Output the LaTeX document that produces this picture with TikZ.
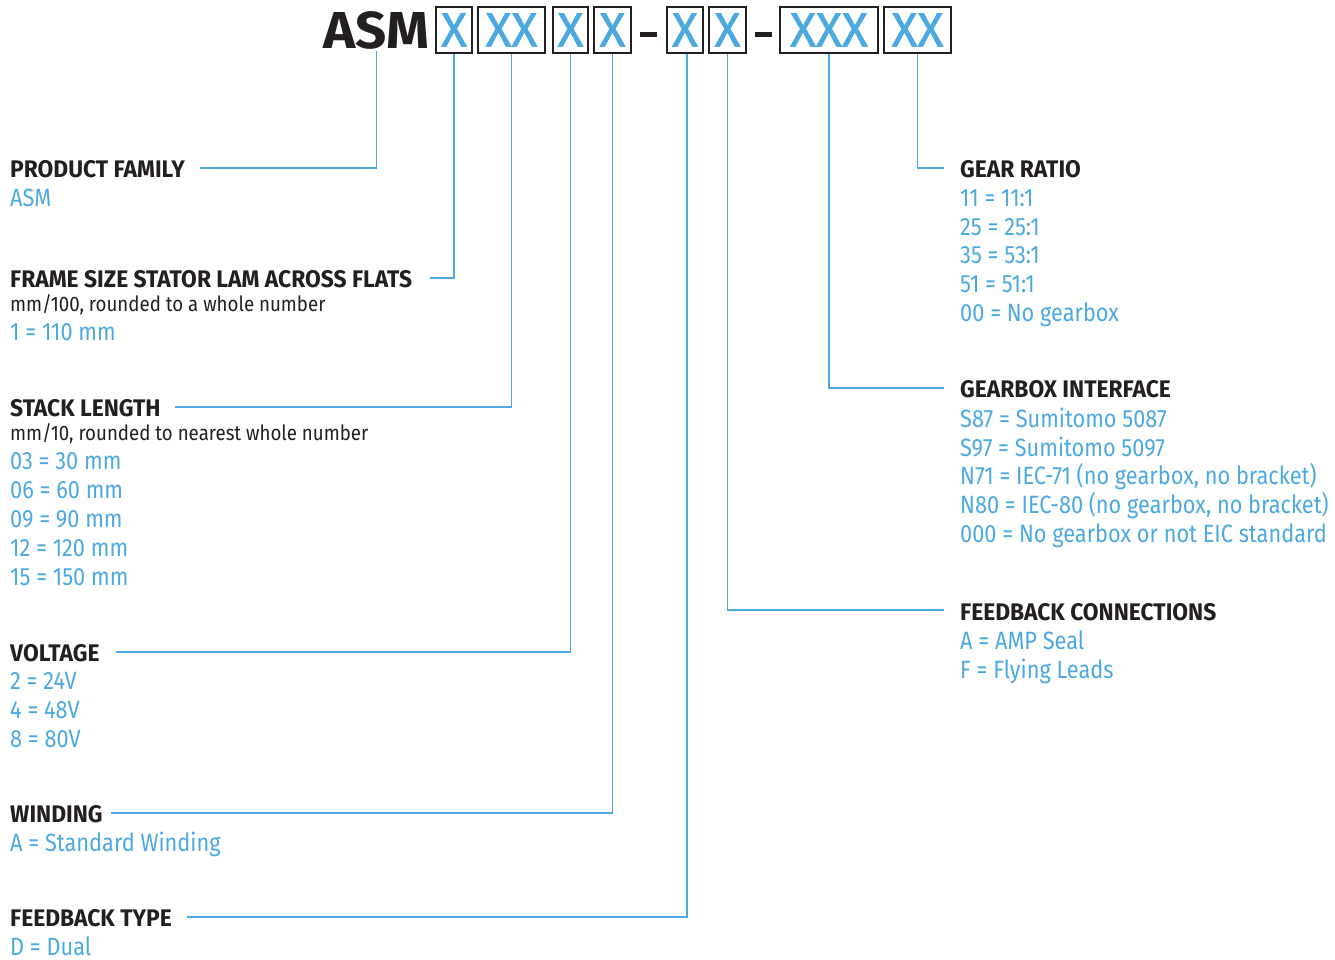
\documentclass[tikz,border=0pt]{standalone}
\usepackage{fontspec}
\setmainfont{Fira Sans}[FakeStretch=0.87]
\newfontfamily\hdfont{Fira Sans}[FakeStretch=0.95]
\newfontfamily\dsfont{Fira Sans}[FakeStretch=0.89]
\newfontfamily\ttlfont{Fira Sans}[FakeStretch=1.05]
\newfontfamily\xfont{Fira Sans}[FakeStretch=1.0,FakeBold=1.2]
\definecolor{cblue}{HTML}{4BA9E0}
\definecolor{cblack}{HTML}{231F20}
\begin{document}
\begin{tikzpicture}[x=1pt,y=-1pt,
  hd/.style={anchor=base west,inner sep=0pt,text=cblack,font=\hdfont\fontsize{24}{29}\selectfont\bfseries},
  bl/.style={anchor=base west,inner sep=0pt,text=cblue,font=\fontsize{25}{29}\selectfont},
  ds/.style={anchor=base west,inner sep=0pt,text=cblack,font=\dsfont\fontsize{21}{24}\selectfont},
  xbox/.style={draw=cblack,line width=2pt,inner sep=0pt,minimum height=46pt,text=cblue,font=\xfont\fontsize{48}{48}\selectfont},
  hyph/.style={fill=cblack,inner sep=0pt,minimum width=17pt,minimum height=5pt},
  lead/.style={draw=cblue,line width=1.6pt}]
\useasboundingbox (0,0) rectangle (1335,959);
% title
\node[anchor=base,inner sep=0pt,text=cblack,font=\ttlfont\fontsize{52}{52}\selectfont\bfseries] (asm) at (376.5,48) {ASM};
\node[xbox,minimum width=36pt] (b1) at (454,30) {X};
\node[xbox,minimum width=67pt] (b2) at (511.5,30) {XX};
\node[xbox,minimum width=35pt] (b3) at (570.5,30) {X};
\node[xbox,minimum width=37pt] (b4) at (612.5,30) {X};
\node[hyph] (d1) at (648.5,34) {};
\node[xbox,minimum width=36pt] (b5) at (685,30) {X};
\node[xbox,minimum width=37pt] (b6) at (727.5,30) {X};
\node[hyph] (d2) at (763.5,34) {};
\node[xbox,minimum width=98pt] (b7) at (829,30) {XXX};
\node[xbox,minimum width=67pt] (b8) at (917.5,30) {XX};
% left column
\node[hd] (h1) at (10,177) {PRODUCT FAMILY};
\node[bl] at (10,206) {ASM};
\node[hd] (h2) at (10,287) {FRAME SIZE STATOR LAM ACROSS FLATS};
\node[ds] at (10,311) {mm/100, rounded to a whole number};
\node[bl] at (10,340) {1 = 110 mm};
\node[hd] (h3) at (10,416) {STACK LENGTH};
\node[ds] at (10,440) {mm/10, rounded to nearest whole number};
\node[bl] at (10,469) {03 = 30 mm};
\node[bl] at (10,498) {06 = 60 mm};
\node[bl] at (10,527) {09 = 90 mm};
\node[bl] at (10,556) {12 = 120 mm};
\node[bl] at (10,585) {15 = 150 mm};
\node[hd] (h4) at (10,661) {VOLTAGE};
\node[bl] at (10,689) {2 = 24V};
\node[bl] at (10,718) {4 = 48V};
\node[bl] at (10,747) {8 = 80V};
\node[hd] (h5) at (10,822) {WINDING};
\node[bl] at (10,851) {A = Standard Winding};
\node[hd] (h6) at (10,926) {FEEDBACK TYPE};
\node[bl] at (10,955) {D = Dual};
% right column
\node[hd] (h7) at (960,177) {GEAR RATIO};
\node[bl] at (960,206) {11 = 11:1};
\node[bl] at (960,235) {25 = 25:1};
\node[bl] at (960,263) {35 = 53:1};
\node[bl] at (960,292) {51 = 51:1};
\node[bl] at (960,321) {00 = No gearbox};
\node[hd] (h8) at (960,397) {GEARBOX INTERFACE};
\node[bl] at (960,427) {S87 = Sumitomo 5087};
\node[bl] at (960,456) {S97 = Sumitomo 5097};
\node[bl] at (960,484) {N71 = IEC-71 (no gearbox, no bracket)};
\node[bl] at (960,513) {N80 = IEC-80 (no gearbox, no bracket)};
\node[bl] at (960,542) {000 = No gearbox or not EIC standard};
\node[hd] (h9) at (960,620) {FEEDBACK CONNECTIONS};
\node[bl] at (960,649) {A = AMP Seal};
\node[bl] at (960,678) {F = Flying Leads};
% leader ends
\coordinate (e1) at (200,168);
\coordinate (e2) at (430,278);
\coordinate (e3) at (175,407);
\coordinate (e4) at (116,652);
\coordinate (e5) at (111,813);
\coordinate (e6) at (187,917);
\coordinate (e7) at (944,168);
\coordinate (e8) at (944,388);
\coordinate (e9) at (944,610);
% leaders
\draw[lead] ([yshift=-2pt]asm.south) |- (e1);
\draw[lead] (b1.south) |- (e2);
\draw[lead] (b2.south) |- (e3);
\draw[lead] (b3.south) |- (e4);
\draw[lead] (b4.south) |- (e5);
\draw[lead] ([xshift=2pt]b5.south) |- (e6);
\draw[lead] (b6.south) |- (e9);
\draw[lead] (b7.south) |- (e8);
\draw[lead] (b8.south) |- (e7);
\end{tikzpicture}
\end{document}
